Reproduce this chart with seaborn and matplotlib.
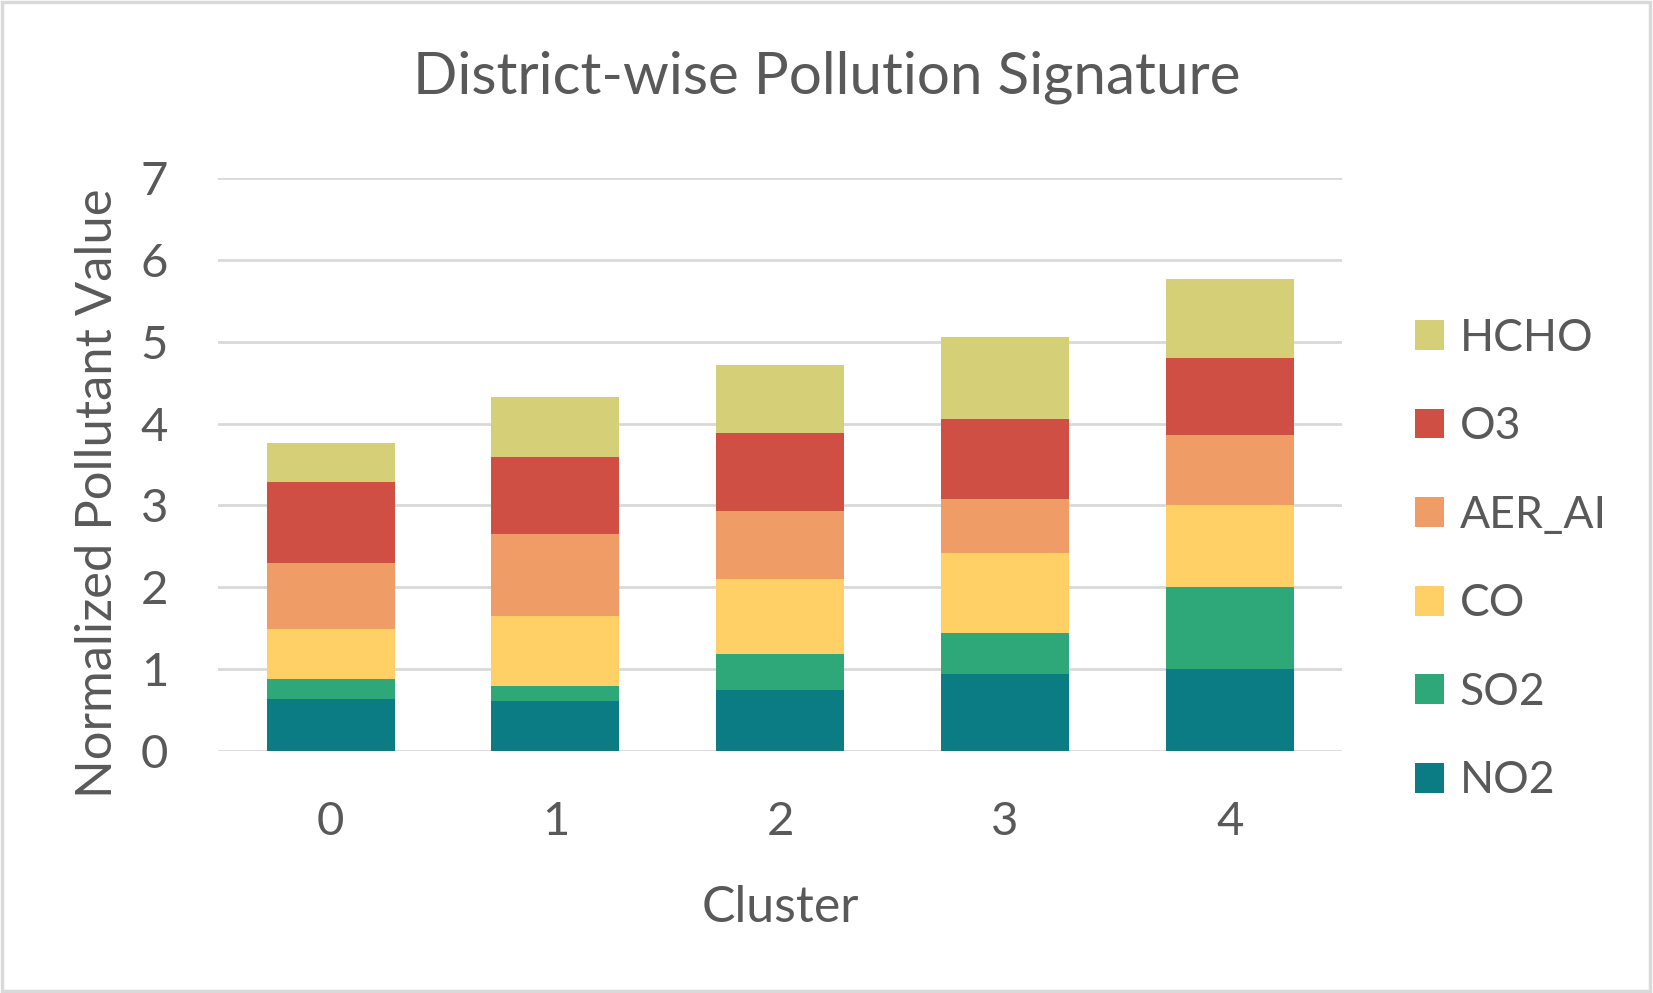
import numpy as np
import pandas as pd
import matplotlib
matplotlib.use("Agg")
import matplotlib.pyplot as plt
from matplotlib.patches import Rectangle, Patch
import seaborn as sns

# data (stack order bottom -> top)
clusters = ["0", "1", "2", "3", "4"]
pollutants = ["NO2", "SO2", "CO", "AER_AI", "O3", "HCHO"]
no2 = [0.63, 0.61, 0.75, 0.94, 1.00]
so2 = [0.25, 0.18, 0.43, 0.50, 1.00]
co = [0.61, 0.86, 0.92, 0.98, 1.00]
aer_ai = [0.81, 1.00, 0.83, 0.66, 0.86]
o3 = [0.99, 0.94, 0.95, 0.98, 0.94]
hcho = [0.47, 0.74, 0.83, 1.00, 0.97]

colors = {"NO2": "#0B7C84", "SO2": "#2EA878", "CO": "#FED066",
          "AER_AI": "#F09C66", "O3": "#CF4F45", "HCHO": "#D5CF77"}

df = pd.DataFrame({"Cluster": clusters, "NO2": no2, "SO2": so2, "CO": co,
                   "AER_AI": aer_ai, "O3": o3, "HCHO": hcho})
cum = df[pollutants].cumsum(axis=1)
cum["Cluster"] = df["Cluster"]

sns.set_theme(style="white")
plt.rcParams["font.family"] = ["Lato", "DejaVu Sans"]
text_col = "#595959"

fig = plt.figure(figsize=(16.53, 9.93), dpi=100)
ax = fig.add_axes([0.132, 0.2437, 0.680, 0.577])

# draw cumulative totals from top layer down so each covers the one above
for p in pollutants[::-1]:
    sns.barplot(data=cum, x="Cluster", y=p, color=colors[p], width=0.57,
                saturation=1, ax=ax, linewidth=0, zorder=3)

ax.set_ylim(0, 7)
ax.set_xlim(-0.5, 4.5)
ax.set_yticks(range(0, 8))
ax.yaxis.grid(True, color="#D9D9D9", linewidth=2.0, zorder=0)
ax.set_axisbelow(True)
for s in ax.spines.values():
    s.set_visible(False)
ax.tick_params(axis="both", length=0, labelsize=34, colors=text_col)
ax.tick_params(axis="y", pad=36)
ax.tick_params(axis="x", pad=36)
ax.set_xlabel("Cluster", fontsize=36, color=text_col, labelpad=30)
ax.set_ylabel("Normalized Pollutant Value", fontsize=36.5, color=text_col, labelpad=14)
ax.yaxis.label.set_y(0.45)

fig.suptitle("District-wise Pollution Signature", fontsize=42, color=text_col,
             x=0.5, y=0.922, va="center")

handles = [Patch(facecolor=colors[p], edgecolor="none") for p in pollutants[::-1]]
fig.legend(handles, pollutants[::-1], loc="center left",
           bbox_to_anchor=(0.8455, 0.4365), frameon=False, fontsize=32,
           labelcolor=text_col, handlelength=0.65, handleheight=0.65,
           handletextpad=0.35, labelspacing=1.07, borderaxespad=0)

fig.patches.append(Rectangle((0.001, 0.002), 0.997, 0.996, transform=fig.transFigure,
                             fill=False, edgecolor="#D9D9D9", linewidth=2.5))

fig.savefig("out.png", dpi=100, facecolor="white")
